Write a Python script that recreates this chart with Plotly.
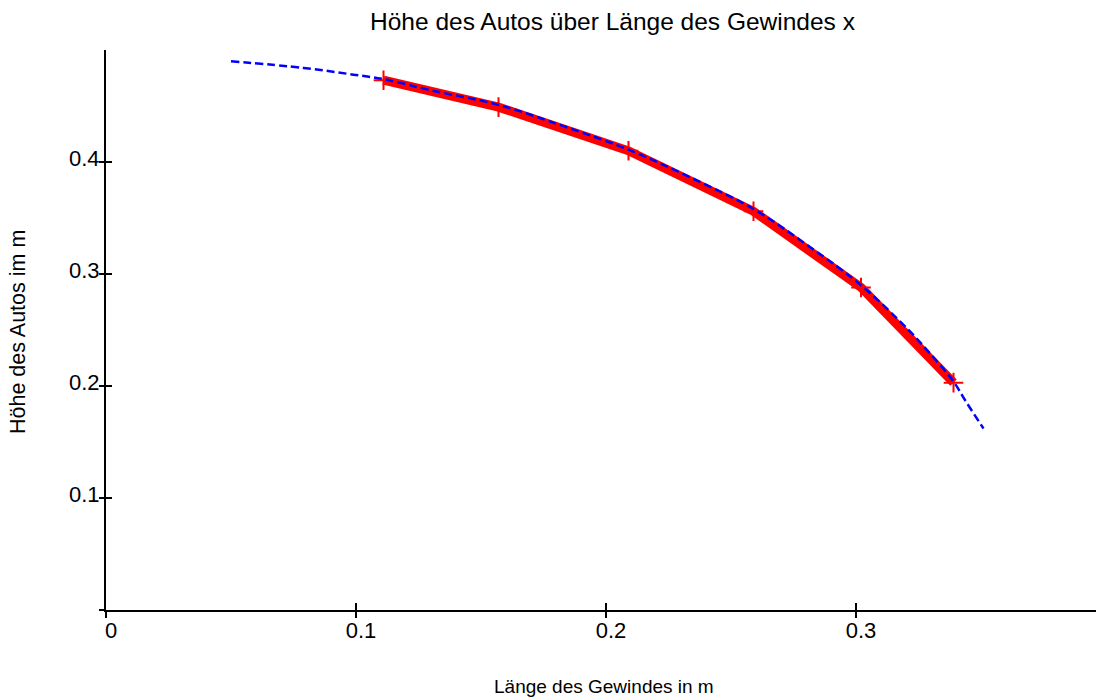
import plotly.graph_objects as go

# measured points (red)
meas_x = [0.111, 0.157, 0.209, 0.259, 0.302, 0.339]
meas_y = [0.473, 0.449, 0.410, 0.356, 0.288, 0.203]

# fitted curve (blue dashed)
fit_x = [0.050, 0.079, 0.099, 0.111, 0.130, 0.157, 0.183, 0.209, 0.234, 0.259, 0.281, 0.302, 0.321, 0.330, 0.339, 0.344, 0.351]
fit_y = [0.490, 0.484, 0.478, 0.474, 0.464, 0.451, 0.432, 0.411, 0.386, 0.358, 0.325, 0.290, 0.250, 0.228, 0.204, 0.186, 0.162]

x_ticks = [0, 0.1, 0.2, 0.3]
x_ticktext = ["0", "0.1", "0.2", "0.3"]
y_ticks = [0, 0.1, 0.2, 0.3, 0.4]
y_ticktext = ["", "0.1", "0.2", "0.3", "0.4"]

title_text = "Höhe des Autos über Länge des Gewindes x"
xlabel = "Länge des Gewindes in m"
ylabel = "Höhe des Autos im m"

FONT = "Liberation Sans, Arial, sans-serif"
FS_TICK = 22
FS_TITLE = 24.5
FS_XLABEL = 19
FS_YLABEL = 21.5

fig = go.Figure()
fig.add_trace(go.Scatter(
    x=meas_x, y=meas_y, mode="lines+markers",
    line=dict(color="#ff0000", width=9),
    marker=dict(symbol="cross-thin", size=14, line=dict(color="#ff0000", width=2), color="#ff0000"),
    showlegend=False, hoverinfo="skip"))
fig.add_trace(go.Scatter(
    x=fit_x, y=fit_y, mode="lines", line_shape="spline",
    line=dict(color="#0000ff", width=2.5, dash="8px,4px"),
    showlegend=False, hoverinfo="skip"))

XR = [0, 0.396]
YR = [0, 0.5]

fig.update_layout(
    width=1101, height=700,
    margin=dict(l=106, r=5, t=50, b=90),
    paper_bgcolor="white", plot_bgcolor="white",
    font=dict(family=FONT, size=FS_TICK, color="black"),
    xaxis=dict(range=XR, showgrid=False, zeroline=False, showline=True, linecolor="black", linewidth=2,
               tickmode="array", tickvals=x_ticks, ticktext=x_ticktext,
               ticks="inside", ticklen=7, tickwidth=2, tickcolor="black",
               ticklabelshift=5, tickfont=dict(size=FS_TICK)),
    yaxis=dict(range=YR, showgrid=False, zeroline=False, showline=True, linecolor="black", linewidth=2,
               tickmode="array", tickvals=y_ticks, ticktext=y_ticktext,
               ticks="inside", ticklen=6, tickwidth=2, tickcolor="black",
               ticklabelshift=-4, tickfont=dict(size=FS_TICK)),
    xaxis2=dict(range=XR, overlaying="x", side="bottom", showgrid=False, zeroline=False, showline=False,
                tickmode="array", tickvals=x_ticks, showticklabels=False,
                ticks="outside", ticklen=7, tickwidth=2, tickcolor="black"),
    yaxis2=dict(range=YR, overlaying="y", side="left", showgrid=False, zeroline=False, showline=False,
                tickmode="array", tickvals=y_ticks, showticklabels=False,
                ticks="outside", ticklen=6, tickwidth=2, tickcolor="black"),
    annotations=[
        dict(text=title_text, xref="paper", yref="paper", x=(612 - 106) / 990, y=(610 - 22) / 560,
             xanchor="center", yanchor="middle", showarrow=False, font=dict(size=FS_TITLE)),
        dict(text=xlabel, xref="paper", yref="paper", x=(604 - 106) / 990, y=(610 - 686) / 560,
             xanchor="center", yanchor="middle", showarrow=False, font=dict(size=FS_XLABEL)),
        dict(text=ylabel, xref="paper", yref="paper", x=(18 - 106) / 990, y=(610 - 332) / 560, textangle=-90,
             xanchor="center", yanchor="middle", showarrow=False, font=dict(size=FS_YLABEL)),
    ],
)
# invisible trace to activate the overlay axes (crossing ticks)
fig.add_trace(go.Scatter(x=[None], y=[None], xaxis="x2", yaxis="y2", showlegend=False, hoverinfo="skip"))

fig.write_html("out.html")
